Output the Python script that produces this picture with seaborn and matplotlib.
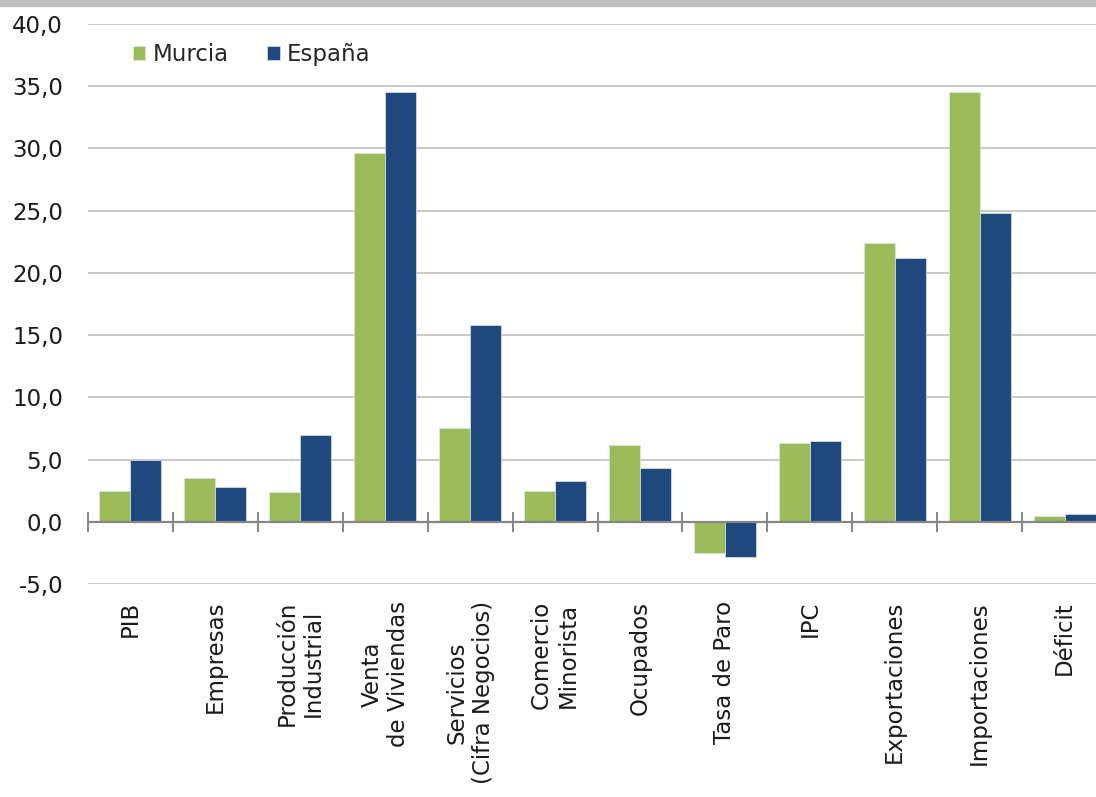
import pandas as pd
import seaborn as sns
import matplotlib.pyplot as plt
import matplotlib.ticker

# Data
categorias = ['PIB', 'Empresas', 'Producción\nIndustrial', 'Venta\nde Viviendas',
              'Servicios\n(Cifra Negocios)', 'Comercio\nMinorista', 'Ocupados',
              'Tasa de Paro', 'IPC', 'Exportaciones', 'Importaciones', 'Déficit']
murcia = [2.5, 3.5, 2.4, 29.6, 7.5, 2.5, 6.2, -2.5, 6.3, 22.4, 34.5, 0.5]
espana = [5.0, 2.8, 7.0, 34.5, 15.8, 3.3, 4.3, -2.8, 6.5, 21.2, 24.8, 0.65]
series = ['Murcia', 'España']
colores = ['#9BBB59', '#1F497D']

df = pd.DataFrame({'categoria': categorias * 2,
                   'valor': murcia + espana,
                   'region': [series[0]] * len(categorias) + [series[1]] * len(categorias)})

sns.set_style('white')
plt.rcParams['font.family'] = ['DejaVu Sans']
fs = 16.5

fig = plt.figure(figsize=(10.96, 7.97), dpi=100)
ax = fig.add_axes([88 / 1096, 1 - 584 / 797, 1019 / 1096, 560 / 797])

sns.barplot(data=df, x='categoria', y='valor', hue='region', palette=colores,
            saturation=1, width=0.73, gap=0, ax=ax, edgecolor='#dfe6ee', linewidth=0.5)

ax.set_ylim(-5, 40)
ax.set_xlim(-0.5, len(categorias) - 0.5)
ax.yaxis.set_major_locator(matplotlib.ticker.MultipleLocator(5))
ax.yaxis.set_major_formatter(matplotlib.ticker.FuncFormatter(lambda v, p: f'{v:.1f}'.replace('.', ',')))
ax.yaxis.grid(True, color='#C4C4C4', linewidth=1.3)
ax.set_axisbelow(True)

for s in ['left', 'right', 'top']:
    ax.spines[s].set_visible(False)
ax.spines['bottom'].set_position(('data', 0))
ax.spines['bottom'].set_color('#868686')
ax.spines['bottom'].set_linewidth(1.6)
ax.spines['bottom'].set_zorder(3)

# category boundary ticks crossing the axis line
ax.xaxis.set_minor_locator(matplotlib.ticker.FixedLocator([i - 0.5 for i in range(len(categorias) + 1)]))
ax.tick_params(axis='x', which='minor', bottom=True, direction='inout', length=14,
               width=1.4, color='#868686')
ax.tick_params(axis='x', which='major', length=0, pad=57)
ax.tick_params(axis='y', length=0, pad=18, labelsize=fs, labelcolor='#1a1a1a')
ax.set_xticks(range(len(categorias)))
ax.set_xticklabels(categorias, rotation=90, va='top', ha='center', multialignment='center',
                   color='#1a1a1a', fontsize=fs, linespacing=1.2)
ax.set_xlabel('')
ax.set_ylabel('')

handles, labels = ax.get_legend_handles_labels()
ax.legend(handles, labels, ncol=2, frameon=False, loc='center left',
          bbox_to_anchor=(0.044, 0.945), borderaxespad=0, borderpad=0,
          handlelength=0.55, handleheight=0.55, handletextpad=0.3,
          columnspacing=1.7, fontsize=fs)

fig.add_artist(plt.Rectangle((0, 1 - 6 / 797), 1, 6 / 797, transform=fig.transFigure,
                             color='#BFBFBF', zorder=0))

fig.savefig('out.png', dpi=100)
